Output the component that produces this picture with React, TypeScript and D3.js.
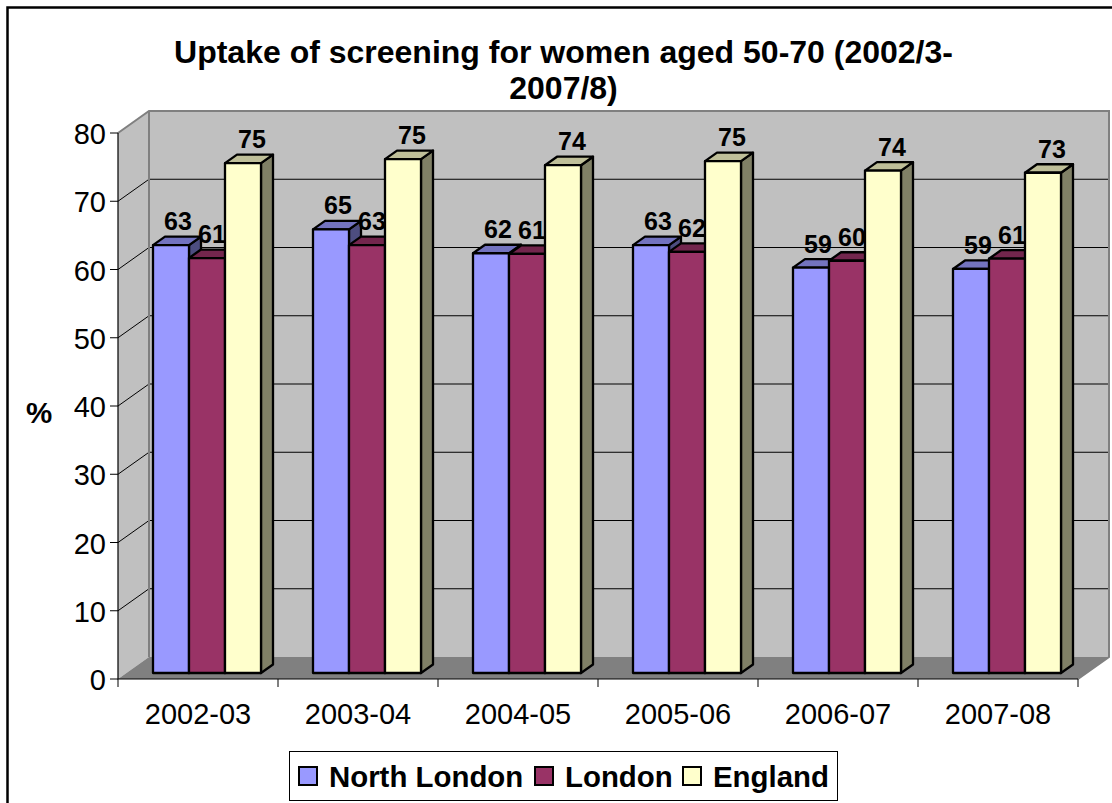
import { useEffect, useRef } from 'react';
import * as d3 from 'd3';

const categories = ['2002-03', '2003-04', '2004-05', '2005-06', '2006-07', '2007-08'];
const northLondon = [62.7, 65.0, 61.5, 62.7, 59.4, 59.2];
const london = [60.8, 62.7, 61.4, 61.7, 60.4, 60.7];
const england = [74.7, 75.3, 74.4, 75.0, 73.6, 73.3];
const yTicks = [0, 10, 20, 30, 40, 50, 60, 70, 80];
const titleLines = ['Uptake of screening for women aged 50-70 (2002/3-', '2007/8)'];

const series = [
  { name: 'North London', values: northLondon, front: '#9999ff', top: '#7373bf', side: '#4d4d80' },
  { name: 'London', values: london, front: '#993366', top: '#73264d', side: '#4d1a33' },
  { name: 'England', values: england, front: '#ffffcc', top: '#bfbf99', side: '#808066' },
];

const width = 1112;
const height = 803;
const font = '"Liberation Sans", Arial, sans-serif';

const App = () => {
  const svgRef = useRef<SVGSVGElement>(null);

  useEffect(() => {
    const svg = d3.select(svgRef.current);
    svg.selectAll('*').remove();

    // front plane of the axes, the walls sit behind it by wall offset
    const x = d3.scaleBand().domain(categories).range([118, 1078]);
    const y = d3.scaleLinear().domain([0, 80]).range([679, 133]);
    const wallDx = 31;
    const wallDy = -22;
    const barShiftX = 9;
    const barShiftY = -6;
    const barDx = 12;
    const barDy = -8.5;
    const labelDx = [7, 5, 9];
    const inner = d3
      .scaleBand()
      .domain(series.map((d) => d.name))
      .range([0, x.bandwidth()])
      .paddingInner(0)
      .paddingOuter(52 / 36 / 2);

    const poly = (pts: number[][]) => pts.map((p) => p.join(',')).join(' ');
    const [x0, x1] = x.range();
    const yTop = y(80);
    const yBottom = y(0);

    // outer frame, only left and top fall inside the picture
    svg
      .append('path')
      .attr('d', `M7.5,${height}V7.5H${width}`)
      .attr('fill', 'none')
      .attr('stroke', '#000')
      .attr('stroke-width', 2.5);

    // walls
    svg
      .append('polygon')
      .attr('points', poly([[x0, yTop], [x0 + wallDx, yTop + wallDy], [x0 + wallDx, yBottom + wallDy], [x0, yBottom]]))
      .attr('fill', '#c0c0c0');
    svg
      .append('rect')
      .attr('x', x0 + wallDx)
      .attr('y', yTop + wallDy)
      .attr('width', x1 - x0)
      .attr('height', yBottom - yTop)
      .attr('fill', '#c0c0c0');
    svg
      .append('polygon')
      .attr('points', poly([[x0, yBottom], [x0 + wallDx, yBottom + wallDy], [x1 + wallDx, yBottom + wallDy], [x1, yBottom]]))
      .attr('fill', '#808080');

    // gridlines run along the side wall and then the back wall
    svg
      .append('g')
      .selectAll('path')
      .data(yTicks.filter((d) => d > 0 && d < 80))
      .join('path')
      .attr('d', (d) => `M${x0},${y(d)}L${x0 + wallDx},${y(d) + wallDy}H${x1 + wallDx}`)
      .attr('fill', 'none')
      .attr('stroke', '#000')
      .attr('stroke-width', 1);

    // wall edges
    svg
      .append('path')
      .attr('d', `M${x0},${yTop}L${x0 + wallDx},${yTop + wallDy}H${x1 + wallDx}V${yBottom + wallDy}L${x1},${yBottom}`)
      .attr('fill', 'none')
      .attr('stroke', '#808080')
      .attr('stroke-width', 2);
    svg
      .append('path')
      .attr('d', `M${x0 + wallDx},${yTop + wallDy}V${yBottom + wallDy}`)
      .attr('stroke', '#808080')
      .attr('stroke-width', 2);

    // axes
    svg
      .append('path')
      .attr('d', `M${x0},${yTop}V${yBottom}H${x1}`)
      .attr('fill', 'none')
      .attr('stroke', '#000')
      .attr('stroke-width', 1.2);
    svg
      .append('g')
      .selectAll('line')
      .data(yTicks)
      .join('line')
      .attr('x1', x0 - 8)
      .attr('x2', x0)
      .attr('y1', (d) => y(d))
      .attr('y2', (d) => y(d))
      .attr('stroke', '#000');
    svg
      .append('g')
      .selectAll('line')
      .data([...categories.map((d) => x(d) as number), x1])
      .join('line')
      .attr('x1', (d) => d)
      .attr('x2', (d) => d)
      .attr('y1', yBottom)
      .attr('y2', yBottom + 8)
      .attr('stroke', '#000');

    const axisText = svg.append('g').attr('font-family', font).attr('font-size', 29).attr('fill', '#000');
    axisText
      .selectAll('text.y')
      .data(yTicks)
      .join('text')
      .attr('class', 'y')
      .attr('x', 106)
      .attr('y', (d) => y(d) + 11)
      .attr('text-anchor', 'end')
      .text((d) => d);
    axisText
      .selectAll('text.x')
      .data(categories)
      .join('text')
      .attr('class', 'x')
      .attr('x', (d) => (x(d) as number) + x.bandwidth() / 2)
      .attr('y', 723.5)
      .attr('text-anchor', 'middle')
      .text((d) => d);

    // bars, back to front inside every category
    const barW = inner.bandwidth();
    categories.forEach((cat, i) => {
      series.forEach((s) => {
        const left = (x(cat) as number) + (inner(s.name) as number) + barShiftX;
        const right = left + barW;
        const top = y(s.values[i]) + barShiftY;
        const bottom = y(0) + barShiftY;
        const g = svg.append('g').attr('stroke', '#000').attr('stroke-width', 2.3).attr('stroke-linejoin', 'round');
        g.append('polygon')
          .attr('points', poly([[right, top], [right + barDx, top + barDy], [right + barDx, bottom + barDy], [right, bottom]]))
          .attr('fill', s.side);
        g.append('polygon')
          .attr('points', poly([[left, top], [left + barDx, top + barDy], [right + barDx, top + barDy], [right, top]]))
          .attr('fill', s.top);
        g.append('rect')
          .attr('x', left)
          .attr('y', top)
          .attr('width', barW)
          .attr('height', bottom - top)
          .attr('fill', s.front);
      });
    });

    // data labels go over everything
    const fmt = d3.format('.0f');
    categories.forEach((cat, i) => {
      series.forEach((s, j) => {
        svg
          .append('text')
          .attr('x', (x(cat) as number) + (inner(s.name) as number) + barShiftX + barW / 2 + labelDx[j])
          .attr('y', y(s.values[i]) + barShiftY - 15)
          .attr('text-anchor', 'middle')
          .attr('font-family', font)
          .attr('font-size', 25)
          .attr('font-weight', 700)
          .text(fmt(s.values[i]));
      });
    });

    // title and y axis name
    svg
      .append('g')
      .selectAll('text')
      .data(titleLines)
      .join('text')
      .attr('x', 563.5)
      .attr('y', (d, i) => 63 + i * 36)
      .attr('text-anchor', 'middle')
      .attr('font-family', font)
      .attr('font-size', 32)
      .attr('font-weight', 700)
      .text((d) => d);
    svg
      .append('text')
      .attr('x', 26)
      .attr('y', 423)
      .attr('font-family', font)
      .attr('font-size', 29.5)
      .attr('font-weight', 700)
      .text('%');

    // legend
    const legend = svg.append('g');
    legend
      .append('rect')
      .attr('x', 289.5)
      .attr('y', 751.5)
      .attr('width', 548)
      .attr('height', 49)
      .attr('fill', '#fff')
      .attr('stroke', '#000')
      .attr('stroke-width', 1);
    const swatchX = [299, 535, 683];
    series.forEach((s, i) => {
      legend
        .append('rect')
        .attr('x', swatchX[i])
        .attr('y', 767)
        .attr('width', 18)
        .attr('height', 18)
        .attr('fill', s.front)
        .attr('stroke', '#000')
        .attr('stroke-width', 2);
      legend
        .append('text')
        .attr('x', swatchX[i] + 30)
        .attr('y', 787)
        .attr('font-family', font)
        .attr('font-size', 29.4)
        .attr('font-weight', 700)
        .text(s.name);
    });
  }, []);

  return (
    <svg
      ref={svgRef}
      width={width}
      height={height}
      style={{ position: 'absolute', left: 0, top: 0, display: 'block', background: '#fff' }}
    ></svg>
  );
};

export default App;
